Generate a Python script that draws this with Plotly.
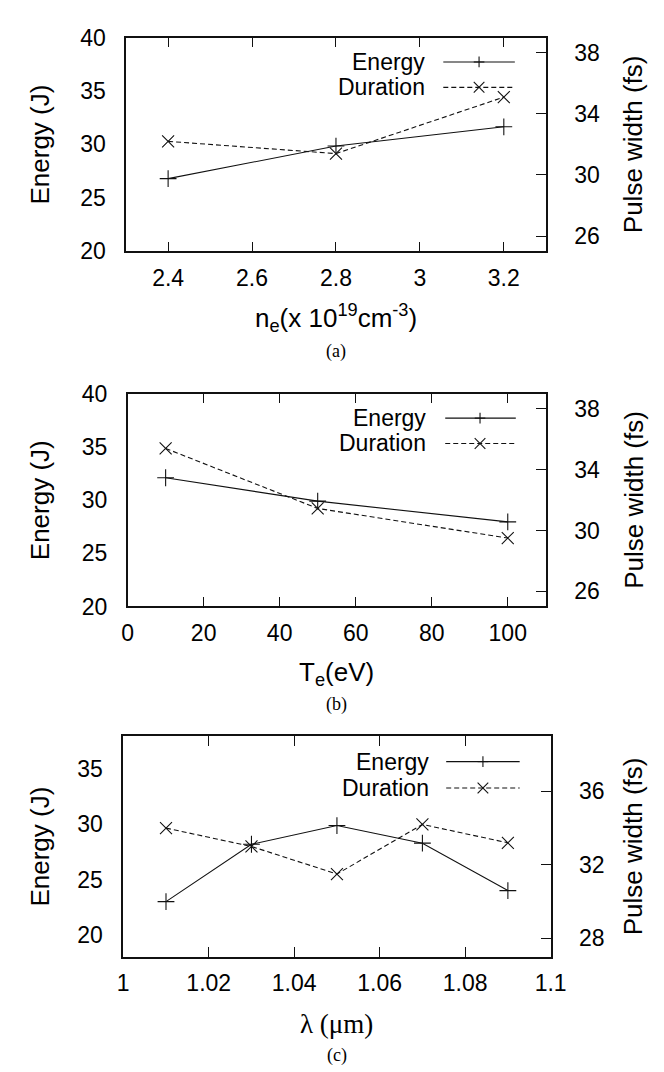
import plotly.graph_objects as go

# ---------------- data ----------------
ne_vals = [2.4, 2.8, 3.2]
ne_energy = [26.8, 29.85, 31.65]
ne_duration = [32.2, 31.4, 35.1]

te_vals = [10, 50, 100]
te_energy = [32.1, 29.9, 27.95]
te_duration = [35.4, 31.45, 29.5]

lam_vals = [1.01, 1.03, 1.05, 1.07, 1.09]
lam_energy = [23.0, 28.2, 29.9, 28.3, 24.0]
lam_duration = [34.0, 33.0, 31.5, 34.2, 33.2]

ne_ticks = [2.4, 2.6, 2.8, 3.0, 3.2]
ne_ticktext = ["2.4", "2.6", "2.8", "3", "3.2"]
te_ticks = [0, 20, 40, 60, 80, 100]
lam_ticks = [1.0, 1.02, 1.04, 1.06, 1.08, 1.1]
lam_ticktext = ["1", "1.02", "1.04", "1.06", "1.08", "1.1"]
energy_ticks_ab = [20, 25, 30, 35, 40]
energy_ticks_c = [20, 25, 30, 35]
pulse_ticks_ab = [26, 30, 34, 38]
pulse_ticks_c = [28, 32, 36]

series_names = ["Energy", "Duration"]
x_titles = ["n<sub>e</sub>(x 10<sup>19</sup>cm<sup>-3</sup>)", "T<sub>e</sub>(eV)", "λ (μm)"]
captions = ["(a)", "(b)", "(c)"]
y_title = "Energy (J)"
y2_title = "Pulse width (fs)"

# ---------------- layout helpers ----------------
W, H = 664, 1072
def px(x):
    return x / W
def py(y):
    return 1 - y / H

SANS = "Liberation Sans"
SERIF = "Liberation Serif"
TICKFONT = dict(family=SANS, size=23, color="black")
LINE_C = "#111111"

panels = [
    # (x0, x1, ytop, ybot)
    (116, 550, 17, 236),
    (117.5, 550, 382, 600),
    (113, 555, 733, 959),
]

fig = go.Figure()

datasets = [
    (ne_vals, ne_energy, ne_duration),
    (te_vals, te_energy, te_duration),
    (lam_vals, lam_energy, lam_duration),
]

for i, (xv, ev, dv) in enumerate(datasets):
    xa = "x" if i == 0 else f"x{i+1}"
    ya = "y" if i == 0 else f"y{2*i+1}"
    ya2 = f"y{2*i+2}"
    fig.add_trace(go.Scatter(
        x=xv, y=ev, xaxis=xa, yaxis=ya, mode="lines+markers",
        name=series_names[0], showlegend=False,
        line=dict(color="#111111", width=1.1),
        marker=dict(symbol="cross-thin", size=12, line=dict(color="#111111", width=1.1)),
    ))
    fig.add_trace(go.Scatter(
        x=xv, y=dv, xaxis=xa, yaxis=ya2, mode="lines+markers",
        name=series_names[1], showlegend=False,
        line=dict(color="#111111", width=1.1, dash="5px,3px"),
        marker=dict(symbol="x-thin", size=12, line=dict(color="#111111", width=1.1)),
    ))

x_ranges = [[2.3, 3.3], [0, 110], [1.0, 1.1]]
x_tickvals = [ne_ticks, te_ticks, lam_ticks]
x_ticktexts = [ne_ticktext, [str(t) for t in te_ticks], lam_ticktext]
y_ranges = [[20, 40], [20, 40], [18, 38]]
y_tickvals = [energy_ticks_ab, energy_ticks_ab, energy_ticks_c]
y2_ranges = [[25, 39], [25, 39], [27, 39]]
y2_tickvals = [pulse_ticks_ab, pulse_ticks_ab, pulse_ticks_c]

layout = dict(
    width=W, height=H, margin=dict(l=0, r=0, t=0, b=0),
    paper_bgcolor="white", plot_bgcolor="white", showlegend=False,
)

axis_common = dict(
    showgrid=False, zeroline=False, showline=True, linecolor=LINE_C, linewidth=1.5,
    ticks="inside", ticklen=10, tickwidth=1, tickcolor=LINE_C, tickfont=TICKFONT,
)

annotations = []
shapes = []

for i, (x0, x1, yt, yb) in enumerate(panels):
    xkey = "xaxis" if i == 0 else f"xaxis{i+1}"
    ykey = "yaxis" if i == 0 else f"yaxis{2*i+1}"
    y2key = f"yaxis{2*i+2}"
    yname = "y" if i == 0 else f"y{2*i+1}"
    xname = "x" if i == 0 else f"x{i+1}"
    layout[xkey] = dict(
        axis_common, domain=[px(x0), px(x1)], range=x_ranges[i],
        tickvals=x_tickvals[i], ticktext=x_ticktexts[i], mirror="ticks",
        anchor=yname, ticklabelstandoff=5,
    )
    layout[ykey] = dict(
        axis_common, domain=[py(yb), py(yt)], range=y_ranges[i],
        tickvals=y_tickvals[i], anchor=xname, side="left", ticklabelstandoff=14,
        ticks="",
    )
    layout[y2key] = dict(
        axis_common, domain=[py(yb), py(yt)], range=y2_ranges[i],
        tickvals=y2_tickvals[i], overlaying=yname, side="right", anchor=xname,
        ticklabelstandoff=22,
    )

    cy = (yt + yb) / 2
    # axis titles
    annotations.append(dict(
        text=y_title, textangle=-90, xref="paper", yref="paper",
        x=px(27), y=py(cy), xanchor="center", yanchor="middle", showarrow=False,
        font=dict(family=SANS, size=26, color="black"),
    ))
    annotations.append(dict(
        text=y2_title, textangle=-90, xref="paper", yref="paper",
        x=px(641), y=py(cy), xanchor="center", yanchor="middle", showarrow=False,
        font=dict(family=SANS, size=26, color="black"),
    ))

# x-axis titles
xt_pos = [(333, 304), (334, 669), (334, 1028)]
for i, (tx, ty) in enumerate(xt_pos):
    fam = SERIF if i == 2 else SANS
    size = 27 if i == 2 else 26
    annotations.append(dict(
        text=x_titles[i], xref="paper", yref="paper", x=px(tx), y=py(ty),
        xanchor="center", yanchor="middle", showarrow=False,
        font=dict(family=fam, size=size, color="black"),
    ))

# captions
cap_pos = [(333, 339), (334, 701), (334, 1060)]
for i, (tx, ty) in enumerate(cap_pos):
    annotations.append(dict(
        text=captions[i], xref="paper", yref="paper", x=px(tx), y=py(ty),
        xanchor="center", yanchor="middle", showarrow=False,
        font=dict(family=SERIF, size=18, color="black"),
    ))

# custom gnuplot-style keys (text left of sample)
keys = [
    # text right x, row ys, line x0, x1, marker x
    (427, (42, 68), 444, 518, 481),
    (428, (407, 433), 446, 519, 482),
    (431, (759, 786), 447, 523, 485),
]
for (tr, rows, lx0, lx1, mx) in keys:
    for j, ry in enumerate(rows):
        annotations.append(dict(
            text=series_names[j], xref="paper", yref="paper", x=px(tr), y=py(ry),
            xanchor="right", yanchor="middle", showarrow=False,
            font=dict(family=SANS, size=23, color="black"),
        ))
        shapes.append(dict(
            type="line", xref="paper", yref="paper",
            x0=px(lx0), x1=px(lx1), y0=py(ry), y1=py(ry),
            line=dict(color="#111111", width=1.1, dash="solid" if j == 0 else "5px,3px"),
        ))
        s = 5.5
        if j == 0:
            segs = [((mx - s, ry), (mx + s, ry)), ((mx, ry - s), (mx, ry + s))]
        else:
            segs = [((mx - s, ry - s), (mx + s, ry + s)), ((mx - s, ry + s), (mx + s, ry - s))]
        for (a, b) in segs:
            shapes.append(dict(
                type="line", xref="paper", yref="paper",
                x0=px(a[0]), y0=py(a[1]), x1=px(b[0]), y1=py(b[1]),
                line=dict(color="#111111", width=1.1),
            ))

layout["annotations"] = annotations
layout["shapes"] = shapes
fig.update_layout(**layout)

fig.write_html("out.html")
